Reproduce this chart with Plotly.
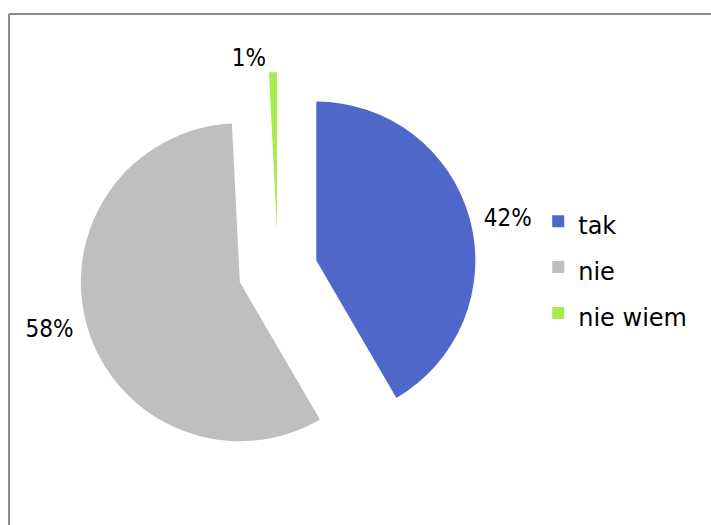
import plotly.graph_objects as go

# survey answers (share of respondents, %)
labels = ["tak", "nie", "nie wiem"]
values = [41.6, 57.6, 0.8]
colors = ["#4F67C8", "#BFBFBF", "#A8EA50"]

LABEL_FONT = "Liberation Sans Narrow, DejaVu Sans Condensed, Liberation Sans, sans-serif"
LEGEND_FONT = "DejaVu Sans, Verdana, sans-serif"

# legend rows are spaced by the (large) legend font size, text itself is drawn smaller
legend_labels = ["<span style='font-size:24px'>%s</span>" % s for s in labels]

# a non-breaking space keeps the outside labels a little further from the slices
NB = "\u00a0"
label_templates = [NB + "%{percent:.0%}", "%{percent:.0%}" + NB, "%{percent:.0%}"]

fig = go.Figure()
fig.add_trace(
    go.Pie(
        labels=legend_labels,
        values=values,
        marker=dict(colors=colors, line=dict(width=0)),
        pull=[0.25, 0.25, 0.25],
        sort=False,
        direction="clockwise",
        rotation=0,
        textposition="outside",
        texttemplate=label_templates,
        textfont=dict(family=LABEL_FONT, size=24, color="#000000"),
        domain=dict(x=[0.1114, 0.6705], y=[0.034, 0.934]),
        automargin=False,
        hoverinfo="skip",
    )
)

# grey chart frame (only left and top edges are visible in the crop)
fig.add_shape(type="line", xref="paper", yref="paper",
              x0=0.0127, y0=0.9733, x1=1.0, y1=0.9733,
              line=dict(color="#8A8A8A", width=2))
fig.add_shape(type="line", xref="paper", yref="paper",
              x0=0.0127, y0=0.9733, x1=0.0127, y1=0.0,
              line=dict(color="#8A8A8A", width=2))

fig.update_layout(
    width=711,
    height=525,
    margin=dict(l=0, r=0, t=0, b=0, pad=0, autoexpand=False),
    paper_bgcolor="white",
    plot_bgcolor="white",
    showlegend=True,
    legend=dict(
        x=0.757, y=0.491, xanchor="left", yanchor="middle",
        font=dict(family=LEGEND_FONT, size=33, color="#000000"),
        bgcolor="rgba(0,0,0,0)",
    ),
)

# drop the default page margin so the figure sits at the window's corner
fig.write_html("out.html", config={"displayModeBar": False},
               post_script="document.body.style.margin='0';")
